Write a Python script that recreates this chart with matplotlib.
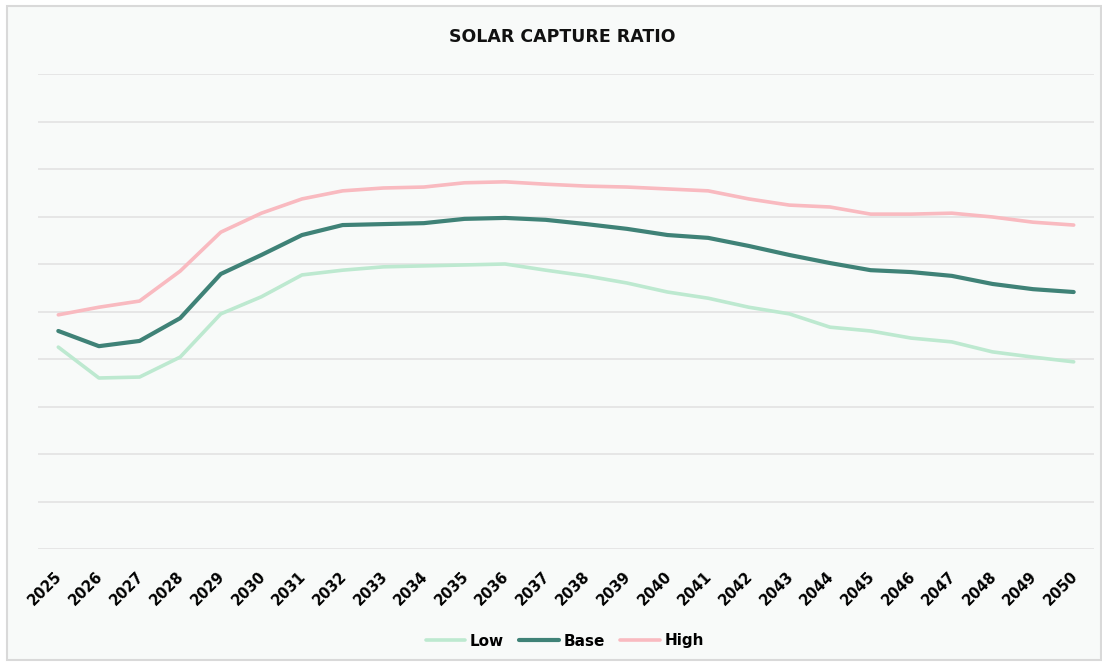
import numpy as np
import matplotlib.pyplot as plt
import matplotlib.transforms as mtransforms
from matplotlib.patches import Rectangle

years = [str(y) for y in range(2025, 2051)]

# values (no y labels in the original, 0-100 scale)
low = [42.5, 36.0, 36.2, 40.4, 49.5, 53.1, 57.7, 58.7, 59.4, 59.6, 59.8, 60.0, 58.7,
       57.5, 56.0, 54.1, 52.8, 50.9, 49.5, 46.7, 45.9, 44.4, 43.6, 41.5, 40.4, 39.4]
base = [45.9, 42.7, 43.8, 48.6, 57.9, 61.9, 66.1, 68.2, 68.4, 68.6, 69.5, 69.7, 69.3,
        68.4, 67.4, 66.1, 65.5, 63.8, 61.9, 60.2, 58.7, 58.3, 57.5, 55.8, 54.7, 54.1]
high = [49.3, 50.9, 52.2, 58.5, 66.7, 70.7, 73.7, 75.4, 76.0, 76.2, 77.1, 77.3, 76.8,
        76.4, 76.2, 75.8, 75.4, 73.7, 72.4, 72.0, 70.5, 70.5, 70.7, 69.9, 68.8, 68.2]

series = [("Low", low, "#bde9d0", 2.6),
          ("Base", base, "#3f8277", 3.0),
          ("High", high, "#f9bac0", 2.6)]

bg = "#f8faf9"

fig = plt.figure(figsize=(11.02, 6.67), dpi=100)
fig.patch.set_facecolor("white")
fig.patches.append(Rectangle((7 / 1102, 7 / 667), 1094 / 1102, 654 / 667,
                             transform=fig.transFigure, facecolor=bg,
                             edgecolor="#d9d9d9", linewidth=1.5, zorder=-1))

ax = fig.add_axes([38 / 1102, 1 - 549 / 667, (1094 - 38) / 1102, (549 - 74) / 667])
ax.set_facecolor("none")

x = np.arange(len(years))
for name, vals, color, lw in series:
    ax.plot(x, vals, color=color, linewidth=lw, label=name, solid_capstyle="round")

ax.set_xlim(-0.5, len(years) - 0.5)
ax.set_ylim(0, 100)
ax.set_yticks(np.arange(0, 101, 10))
ax.set_yticklabels([])
ax.tick_params(axis="y", length=0)
ax.grid(axis="y", color="#e3e3e3", linewidth=1.2)
ax.set_axisbelow(True)
for s in ax.spines.values():
    s.set_visible(False)

ax.set_xticks(x)
ax.set_xticklabels(years, rotation=45, ha="right", va="top", fontsize=10.5,
                   fontweight="bold")
ax.tick_params(axis="x", length=0, pad=14)
# shift labels a little to the right so their top end sits on the tick
shift = mtransforms.ScaledTranslation(7 / 100, 0, fig.dpi_scale_trans)
for lbl in ax.get_xticklabels():
    lbl.set_transform(lbl.get_transform() + shift)

fig.text(562 / 1102, 1 - 37 / 667, "SOLAR CAPTURE RATIO", ha="center", va="center",
         fontsize=12.5, fontweight="bold", color="#111111")

leg = fig.legend(loc="center", bbox_to_anchor=(565 / 1102, 1 - 641 / 667), ncol=3,
                 frameon=False, fontsize=11, handlelength=2.6, columnspacing=1.0,
                 handletextpad=0.3)
for t in leg.get_texts():
    t.set_fontweight("bold")

fig.savefig("out.png", dpi=100, facecolor=fig.get_facecolor())
